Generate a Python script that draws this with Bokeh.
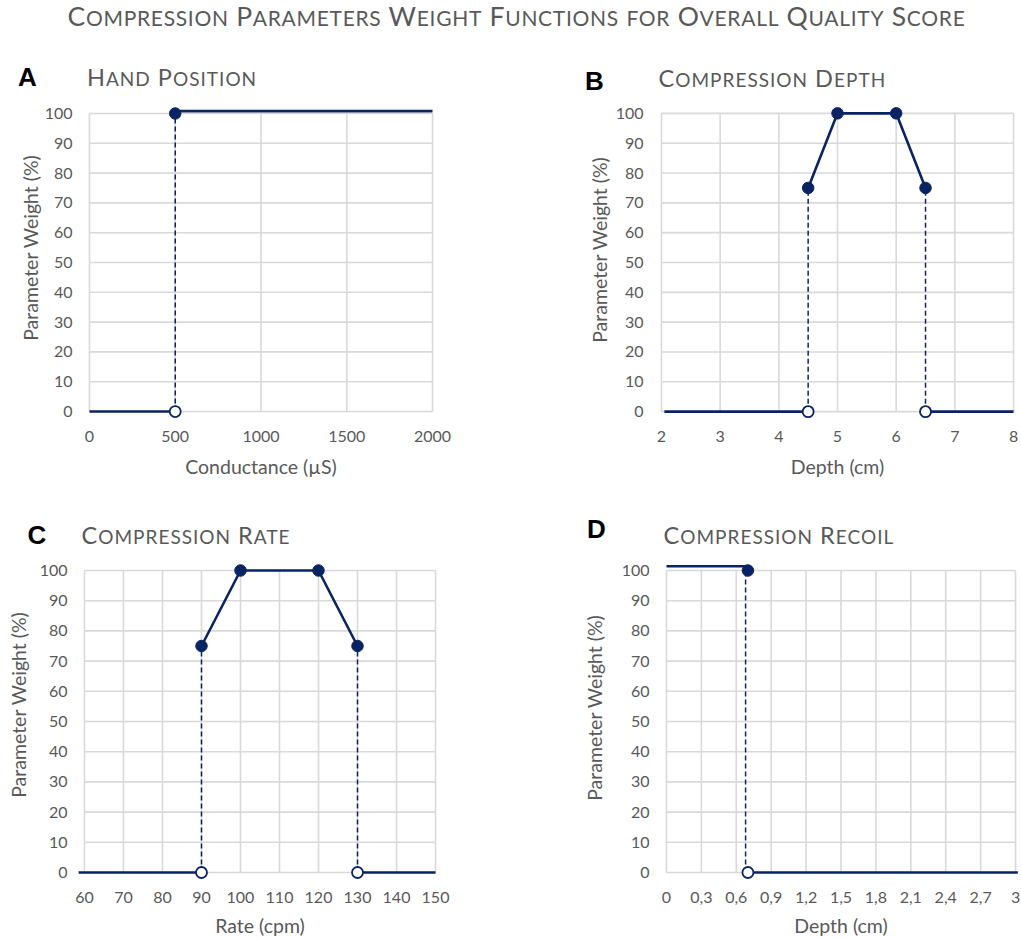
from bokeh.plotting import figure
from bokeh.models import Div, FixedTicker, Range1d
from bokeh.layouts import column, row
from bokeh.embed import file_html
from bokeh.resources import INLINE

# ---------------- data ----------------
y_ticks = [0, 10, 20, 30, 40, 50, 60, 70, 80, 90, 100]
y_title = "Parameter Weight (%)"

# A: hand position
hp_ticks = [0, 500, 1000, 1500, 2000]
hp_labels = ["0", "500", "1000", "1500", "2000"]
hp_low_x, hp_low_y = [0, 500], [0, 0]
hp_high_x, hp_high_y = [500, 2000], [100.8, 100.8]
hp_on_x, hp_on_y = [500], [100]
hp_off_x, hp_off_y = [500], [0]

# B: compression depth
cd_ticks = [2, 3, 4, 5, 6, 7, 8]
cd_labels = ["2", "3", "4", "5", "6", "7", "8"]
cd_curve_x, cd_curve_y = [4.5, 5, 6, 6.5], [75, 100, 100, 75]
cd_zero_left_x, cd_zero_left_y = [2.05, 4.5], [0, 0]
cd_zero_right_x, cd_zero_right_y = [6.5, 8], [0, 0]
cd_off_x, cd_off_y = [4.5, 6.5], [0, 0]

# C: compression rate
cr_ticks = [60, 70, 80, 90, 100, 110, 120, 130, 140, 150]
cr_labels = ["60", "70", "80", "90", "100", "110", "120", "130", "140", "150"]
cr_curve_x, cr_curve_y = [90, 100, 120, 130], [75, 100, 100, 75]
cr_zero_left_x, cr_zero_left_y = [58.5, 90], [0, 0]
cr_zero_right_x, cr_zero_right_y = [130, 150], [0, 0]
cr_off_x, cr_off_y = [90, 130], [0, 0]

# D: compression recoil
rc_ticks = [0, 0.3, 0.6, 0.9, 1.2, 1.5, 1.8, 2.1, 2.4, 2.7, 3]
rc_labels = ["0", "0,3", "0,6", "0,9", "1,2", "1,5", "1,8", "2,1", "2,4", "2,7", "3"]
rc_high_x, rc_high_y = [0, 0.7], [101.4, 101.4]
rc_low_x, rc_low_y = [0.7, 3.02], [0, 0]
rc_on_x, rc_on_y = [0.7], [100]
rc_off_x, rc_off_y = [0.7], [0]

# ---------------- style ----------------
NAVY = "#0a2463"
GRID = "#d9d9d9"
TXT = "#595959"
FONT = "Lato"
TITLE_SIZE = "19.5px"


def make_panel(w, h, gl, gr, gt, gb, pad, ticks, labels, xtitle,
               ylabel_standoff, xlab_standoff):
    PL = PR = pad
    PT, PB = 8, 8
    xmin, xmax = ticks[0], ticks[-1]
    ux = (xmax - xmin) / (gr - gl)
    uy = 100.0 / (gb - gt)
    p = figure(width=w, height=h, output_backend="svg", toolbar_location=None,
               x_range=Range1d(xmin - PL * ux, xmax + PR * ux),
               y_range=Range1d(0 - PB * uy, 100 + PT * uy),
               min_border_left=gl - PL, min_border_right=w - (gr + PR),
               min_border_top=gt - PT, min_border_bottom=h - (gb + PB),
               background_fill_color="white", border_fill_color="white",
               outline_line_color=None, margin=0)
    p.xgrid.visible = False
    p.ygrid.visible = False
    # grid drawn inside the 0..100 / xmin..xmax box
    p.segment(x0=ticks, y0=[0] * len(ticks), x1=ticks, y1=[100] * len(ticks),
              line_color=GRID, line_width=1.6)
    p.segment(x0=[xmin] * len(y_ticks), y0=y_ticks, x1=[xmax] * len(y_ticks), y1=y_ticks,
              line_color=GRID, line_width=1.6)
    for ax in (p.xaxis[0], p.yaxis[0]):
        ax.axis_line_color = None
        ax.major_tick_line_color = None
        ax.minor_tick_line_color = None
        ax.major_tick_out = 0
        ax.major_tick_in = 0
        ax.major_label_text_font = FONT
        ax.major_label_text_font_size = "16px"
        ax.major_label_text_color = TXT
        ax.axis_label_text_font = FONT
        ax.axis_label_text_font_size = TITLE_SIZE
        ax.axis_label_text_font_style = "normal"
        ax.axis_label_text_color = TXT
    p.xaxis.ticker = FixedTicker(ticks=ticks)
    p.xaxis.major_label_overrides = dict(zip(ticks, labels))
    p.xaxis.axis_label = xtitle
    p.xaxis.major_label_standoff = 11
    p.xaxis.axis_label_standoff = xlab_standoff
    p.yaxis.ticker = FixedTicker(ticks=y_ticks)
    p.yaxis.major_label_standoff = ylabel_standoff
    return p


def dashed(p, xs, ys):
    p.segment(x0=xs, y0=[0] * len(xs), x1=xs, y1=ys, line_color=NAVY,
              line_width=1.5, line_dash="5 3")


def solid(p, xs, ys):
    p.line(xs, ys, line_color=NAVY, line_width=2.6)


def on(p, xs, ys):
    p.scatter(xs, ys, size=11.5, fill_color=NAVY, line_color=NAVY, line_width=1)


def off(p, xs, ys):
    p.scatter(xs, ys, size=11, fill_color="white", line_color=NAVY, line_width=1.8)


# A  (canvas x 41..548, y 96..490)
pa = make_panel(507, 394, 46, 391, 16, 315, 8, hp_ticks, hp_labels, "Conductance (\u00b5S)", 9, 10)
dashed(pa, hp_on_x, hp_on_y)
solid(pa, hp_low_x, hp_low_y)
solid(pa, hp_high_x, hp_high_y)
on(pa, hp_on_x, hp_on_y)
off(pa, hp_off_x, hp_off_y)

# B  (canvas x 612..1021)
pb = make_panel(409, 394, 47, 401, 17, 321, 8, cd_ticks, cd_labels, "Depth (cm)", 10, 10)
dashed(pb, [cd_curve_x[0], cd_curve_x[-1]], [cd_curve_y[0], cd_curve_y[-1]])
solid(pb, cd_zero_left_x, cd_zero_left_y)
solid(pb, cd_zero_right_x, cd_zero_right_y)
solid(pb, cd_curve_x, cd_curve_y)
on(pb, cd_curve_x, cd_curve_y)
off(pb, cd_off_x, cd_off_y)

# C  (canvas x 36..548, y 552..939)
pc = make_panel(512, 387, 47, 399, 18, 320, 8, cr_ticks, cr_labels, "Rate (cpm)", 9, 8)
dashed(pc, [cr_curve_x[0], cr_curve_x[-1]], [cr_curve_y[0], cr_curve_y[-1]])
solid(pc, cr_zero_left_x, cr_zero_left_y)
solid(pc, cr_zero_right_x, cr_zero_right_y)
solid(pc, cr_curve_x, cr_curve_y)
on(pc, cr_curve_x, cr_curve_y)
off(pc, cr_off_x, cr_off_y)

# D  (canvas x 618..1021)
pd = make_panel(403, 387, 46, 397, 18, 320, 6, rc_ticks, rc_labels, "Depth (cm)", 11, 8)
dashed(pd, [0.68], rc_on_y)
solid(pd, rc_high_x, rc_high_y)
solid(pd, rc_low_x, rc_low_y)
on(pd, rc_on_x, rc_on_y)
off(pd, rc_off_x, rc_off_y)


# ---------------- texts ----------------
def small_caps(text, big, small):
    words = []
    for word in text.split(" "):
        parts = []
        for ch in word:
            if ch.isupper():
                parts.append('<span style="font-size:%spx">%s</span>' % (big, ch))
            else:
                parts.append('<span style="font-size:%spx">%s</span>' % (small, ch.upper()))
        words.append("".join(parts))
    return " ".join(words)


def span(left, top, inner, extra):
    return ('<div style="position:absolute;left:%spx;top:%spx;white-space:nowrap;'
            'line-height:1;%s">%s</div>' % (left, top, extra, inner))


def ytitle_div(w, h, cx, cy):
    html = ('<div style="position:relative;width:%spx;height:%spx;">'
            '<div style="position:absolute;left:%spx;top:%spx;transform:translate(-50%%,-50%%) rotate(-90deg);'
            'white-space:nowrap;line-height:1;font-family:Lato;font-size:%s;color:%s;">%s</div></div>'
            % (w, h, cx, cy, TITLE_SIZE, TXT, y_title))
    return Div(text=html, width=w, height=h, margin=0)


HEAD = "font-family:Lato;color:%s;font-size:23.5px;letter-spacing:1px;" % TXT
LET = "font-family:'Liberation Sans';font-weight:bold;color:#000;font-size:26px;"

title_html = ('<div style="position:relative;width:1021px;height:54px;">'
              '<div style="position:absolute;left:12px;width:1009px;top:3px;text-align:center;'
              'white-space:nowrap;line-height:1;font-family:Lato;color:%s;font-size:26.5px;'
              'letter-spacing:0.7px;">%s</div></div>'
              % (TXT, small_caps("Compression Parameters Weight Functions for Overall Quality Score", 26.5, 21)))
title_div = Div(text=title_html, width=1021, height=54, margin=0)

hdr1_html = ('<div style="position:relative;width:1021px;height:42px;">'
             + span(18, 9.5, "A", LET)
             + span(87, 11.5, small_caps("Hand Position", 23.5, 19), HEAD)
             + span(585, 13.5, "B", LET)
             + span(658.5, 13, small_caps("Compression Depth", 23.5, 19), HEAD)
             + '</div>')
hdr1 = Div(text=hdr1_html, width=1021, height=42, margin=0)

hdr2_html = ('<div style="position:relative;width:1021px;height:62px;">'
             + span(27.5, 32, "C", LET)
             + span(81.5, 33.5, small_caps("Compression Rate", 23.5, 19), HEAD)
             + span(587, 26, "D", LET)
             + span(663.5, 33.5, small_caps("Compression Recoil", 23.5, 19), HEAD)
             + '</div>')
hdr2 = Div(text=hdr2_html, width=1021, height=62, margin=0)

row1 = row(ytitle_div(41, 394, 30.5, 152), pa, ytitle_div(64, 394, 52, 154), pb,
           spacing=0, margin=0)
row2 = row(ytitle_div(36, 387, 18.8, 153), pc, ytitle_div(70, 387, 47, 155.5), pd,
           spacing=0, margin=0)

layout = column(title_div, hdr1, row1, hdr2, row2, spacing=0, margin=0)

open("out.html", "w").write(file_html(layout, INLINE))
